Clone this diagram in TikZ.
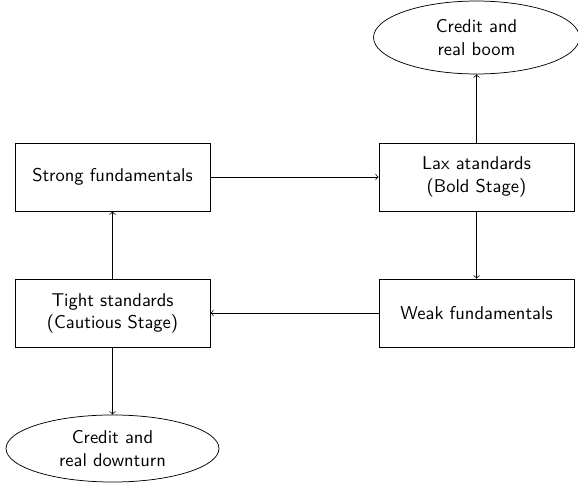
\documentclass[tikz,border=0pt]{standalone}
\usepackage{tikz}
\usetikzlibrary{arrows, shapes.geometric}

\begin{document}
\begin{tikzpicture}[
    x=0.54pt,
    y=-0.54pt,
    >=to,
    stage/.style={draw, rectangle, align=center, font=\sffamily,
        minimum width=105.3pt, minimum height=36.7pt},
    outcome/.style={draw, ellipse, align=center, font=\sffamily, inner sep=0pt}]

    \useasboundingbox (0,0) rectangle (578,483);

    % fundamentals and standards
    \node[stage] (strong) at (112.5,177) {Strong fundamentals};
    \node[stage] (lax) at (476.5,177) {Lax atandards\\(Bold Stage)};
    \node[stage] (weak) at (476.5,313) {Weak fundamentals};
    \node[stage] (tight) at (112.5,313) {Tight standards\\(Cautious Stage)};

    % outcomes
    \node[outcome, minimum width=111.2pt, minimum height=39.4pt] (boom) at (476.5,37.5) {Credit and\\real boom};
    \node[outcome, minimum width=115pt, minimum height=36.2pt] (downturn) at (112.5,448.5) {Credit and\\real downturn};

    % cycle
    \draw[->] (strong) -- (lax);
    \draw[->] (lax) -- (weak);
    \draw[->] (weak) -- (tight);
    \draw[->] (tight) -- (strong);

    \draw[->] (lax) -- (boom);
    \draw[->] (tight) -- (downturn);

\end{tikzpicture}
\end{document}
